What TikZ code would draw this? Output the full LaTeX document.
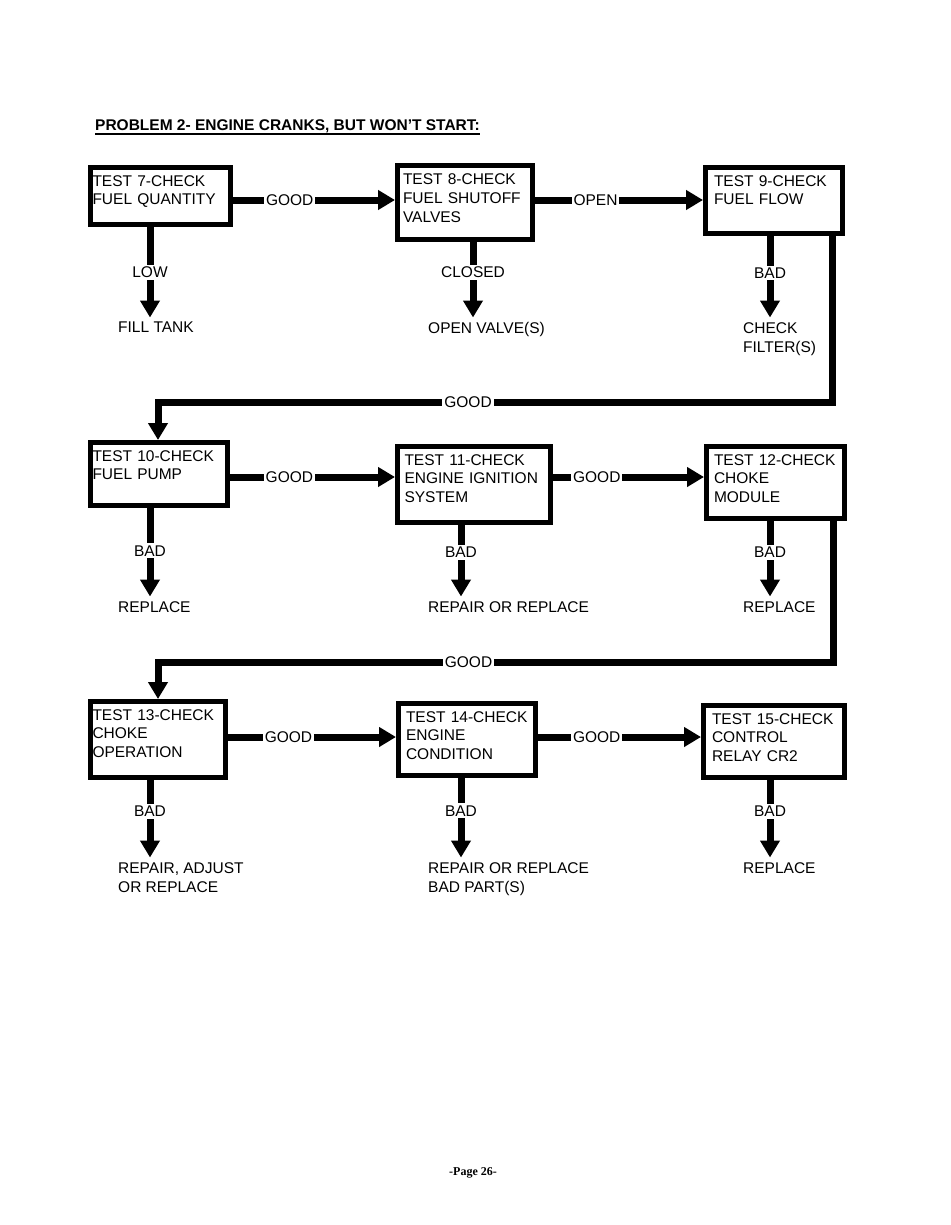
\documentclass[tikz,border=0pt]{standalone}
\usepackage{fontspec}
\setmainfont{Liberation Sans}
\newfontfamily\pagefont{Liberation Serif}
\usepackage{tikz}
\usetikzlibrary{arrows.meta, positioning, calc}

\begin{document}
\begin{tikzpicture}[x=1pt, y=-1pt,
    testbox/.style={draw, line width=5pt, anchor=north west, align=left,
      font=\fontsize{15.5}{18.7}\selectfont, text height=11pt, inner ysep=7.5pt},
    flow/.style={line width=7pt, -{Triangle[length=17pt,width=19pt]}},
    drop/.style={flow, shorten >=4.5pt},
    lbl/.style={fill=white, inner sep=2pt, font=\fontsize{15.5}{18.7}\selectfont},
    result/.style={anchor=north west, align=left, inner sep=0pt,
      font=\fontsize{15.5}{19}\selectfont}]

  \useasboundingbox (0,0) rectangle (950,1225);

  % ---------- titulo ----------
  \node[anchor=base west, inner sep=0pt, font=\fontsize{15.5}{18}\selectfont\bfseries]
    (title) at (95,131) {PROBLEM 2- ENGINE CRANKS, BUT WON'T START:};
  \draw[line width=1.6pt] ($(title.base west)+(0,3)$) -- ($(title.base east)+(0,3)$);

  % ---------- colunas e linhas ----------
  \coordinate (ca) at (150,0);
  \coordinate (cv) at (473,0);
  \coordinate (cb) at (461,0);
  \coordinate (cc) at (770,0);
  \coordinate (r1) at (0,200);
  \coordinate (r2) at (0,477);
  \coordinate (r3) at (0,737);
  \coordinate (rr1) at (832,402);
  \coordinate (rl1) at (158,402);
  \coordinate (rr2) at (833,662);
  \coordinate (rl2) at (158,662);

  % ---------- testes ----------
  \node[testbox, text width=136pt, inner xsep=2pt, text depth=31pt] (t7) at (88,165)
    {TEST 7-CHECK\\FUEL QUANTITY};
  \node[testbox, text width=124pt, inner xsep=5.5pt, text depth=46pt, inner ysep=8.5pt] (t8) at (395,163)
    {TEST 8-CHECK\\FUEL SHUTOFF\\VALVES};
  \node[testbox, text width=120pt, inner xsep=8.5pt, text depth=40pt] (t9) at (703,165)
    {TEST 9-CHECK\\FUEL FLOW};
  \node[testbox, text width=133pt, inner xsep=2pt, text depth=37pt] (t10) at (88,440)
    {TEST 10-CHECK\\FUEL PUMP};
  \node[testbox, text width=139pt, inner xsep=7pt, text depth=50pt] (t11) at (395,444)
    {TEST 11-CHECK\\ENGINE IGNITION\\SYSTEM};
  \node[testbox, text width=123pt, inner xsep=7.5pt, text depth=46pt] (t12) at (704,444)
    {TEST 12-CHECK\\CHOKE\\MODULE};
  \node[testbox, text width=131pt, inner xsep=2pt, text depth=50pt] (t13) at (88,699)
    {TEST 13-CHECK\\CHOKE\\OPERATION};
  \node[testbox, text width=122pt, inner xsep=7.5pt, text depth=46pt] (t14) at (396,701)
    {TEST 14-CHECK\\ENGINE\\CONDITION};
  \node[testbox, text width=124pt, inner xsep=8.5pt, text depth=46pt] (t15) at (701,703)
    {TEST 15-CHECK\\CONTROL\\RELAY CR2};

  % ---------- resultados ----------
  \node[result] (fill) at (118,322) {FILL TANK};
  \node[result] (openv) at (428,322) {OPEN VALVE(S)};
  \node[result] (filt) at (743,322) {CHECK\\FILTER(S)};
  \node[result] (rep10) at (118,601) {REPLACE};
  \node[result] (rep11) at (428,601) {REPAIR OR REPLACE};
  \node[result] (rep12) at (743,601) {REPLACE};
  \node[result] (rep13) at (118,862) {REPAIR, ADJUST\\OR REPLACE};
  \node[result] (rep14) at (428,862) {REPAIR OR REPLACE\\BAD PART(S)};
  \node[result] (rep15) at (743,862) {REPLACE};

  % ---------- setas horizontais ----------
  \draw[flow] (t7.east |- r1) -- node[lbl, pos=.35] {GOOD} (t8.west |- r1);
  \draw[flow] (t8.east |- r1) -- node[lbl, pos=.36] {OPEN} (t9.west |- r1);
  \draw[flow] (t10.east |- r2) -- node[lbl, pos=.36] {GOOD} (t11.west |- r2);
  \draw[flow] (t11.east |- r2) -- node[lbl, pos=.29] {GOOD} (t12.west |- r2);
  \draw[flow] (t13.east |- r3) -- node[lbl, pos=.36] {GOOD} (t14.west |- r3);
  \draw[flow] (t14.east |- r3) -- node[lbl, pos=.36] {GOOD} (t15.west |- r3);

  % ---------- retornos ----------
  \draw[flow] (t9.south -| rr1) -- (rr1) -- node[lbl, pos=.54] {GOOD} (rl1) -- (t10.north -| rl1);
  \draw[flow] (t12.south -| rr2) -- (rr2) -- node[lbl, pos=.54] {GOOD} (rl2) -- (t13.north -| rl2);

  % ---------- setas para baixo ----------
  \draw[drop] (t7.south -| ca) -- node[lbl, pos=.48] {LOW} (fill.north -| ca);
  \draw[drop] (t8.south -| cv) -- node[lbl, pos=.38] {CLOSED} (openv.north -| cv);
  \draw[drop] (t9.south -| cc) -- node[lbl, pos=.43] {BAD} (filt.north -| cc);
  \draw[drop] (t10.south -| ca) -- node[lbl, pos=.46] {BAD} (rep10.north -| ca);
  \draw[drop] (t11.south -| cb) -- node[lbl, pos=.36] {BAD} (rep11.north -| cb);
  \draw[drop] (t12.south -| cc) -- node[lbl, pos=.39] {BAD} (rep12.north -| cc);
  \draw[drop] (t13.south -| ca) -- node[lbl, pos=.38] {BAD} (rep13.north -| ca);
  \draw[drop] (t14.south -| cb) -- node[lbl, pos=.39] {BAD} (rep14.north -| cb);
  \draw[drop] (t15.south -| cc) -- node[lbl, pos=.38] {BAD} (rep15.north -| cc);

  % ---------- rodape ----------
  \node[font=\fontsize{12}{14}\selectfont\pagefont\bfseries] (pg) at (473,1173) {-Page 26-};

\end{tikzpicture}
\end{document}
